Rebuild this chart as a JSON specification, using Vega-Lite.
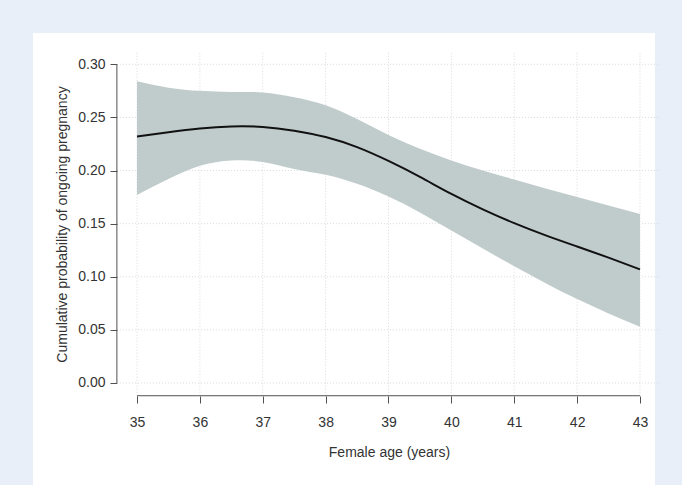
{
  "$schema": "https://vega.github.io/schema/vega-lite/v6.json",
  "width": 622,
  "height": 452,
  "autosize": {"type": "none"},
  "padding": {"left": 33, "top": 33, "right": 27, "bottom": 0},
  "background": "#e8eff9",
  "config": {
    "view": {"fill": "white", "stroke": null},
    "font": "Liberation Sans"
  },
  "datasets": {
    "fit": [
      {"age": 35.0, "lower": 0.177, "fit": 0.232, "upper": 0.284},
      {"age": 35.5, "lower": 0.192, "fit": 0.236, "upper": 0.278},
      {"age": 36.0, "lower": 0.2045, "fit": 0.2395, "upper": 0.275},
      {"age": 36.5, "lower": 0.2095, "fit": 0.2415, "upper": 0.274},
      {"age": 37.0, "lower": 0.208, "fit": 0.241, "upper": 0.2735},
      {"age": 37.5, "lower": 0.2015, "fit": 0.2375, "upper": 0.269},
      {"age": 38.0, "lower": 0.196, "fit": 0.2315, "upper": 0.2615},
      {"age": 38.5, "lower": 0.1875, "fit": 0.222, "upper": 0.2485},
      {"age": 39.0, "lower": 0.1755, "fit": 0.209, "upper": 0.2335},
      {"age": 39.5, "lower": 0.1605, "fit": 0.194, "upper": 0.2205},
      {"age": 40.0, "lower": 0.1435, "fit": 0.178, "upper": 0.2095},
      {"age": 40.5, "lower": 0.1265, "fit": 0.1635, "upper": 0.2},
      {"age": 41.0, "lower": 0.110, "fit": 0.1505, "upper": 0.1915},
      {"age": 41.5, "lower": 0.094, "fit": 0.139, "upper": 0.183},
      {"age": 42.0, "lower": 0.079, "fit": 0.1285, "upper": 0.175},
      {"age": 42.5, "lower": 0.0655, "fit": 0.118, "upper": 0.167},
      {"age": 43.0, "lower": 0.053, "fit": 0.107, "upper": 0.159}
    ],
    "xticks": [
      {"age": 35}, {"age": 36}, {"age": 37}, {"age": 38}, {"age": 39},
      {"age": 40}, {"age": 41}, {"age": 42}, {"age": 43}
    ],
    "yticks": [
      {"p": 0.0}, {"p": 0.05}, {"p": 0.1}, {"p": 0.15}, {"p": 0.2}, {"p": 0.25}, {"p": 0.3}
    ],
    "one": [{"k": 1}]
  },
  "layer": [
    {
      "data": {"name": "xticks"},
      "mark": {"type": "rule", "stroke": "#d9d9d9", "strokeWidth": 1, "strokeDash": [1, 2]},
      "encoding": {
        "x": {"field": "age", "type": "quantitative"},
        "y": {"datum": -0.012, "type": "quantitative"},
        "y2": {"datum": 0.312}
      }
    },
    {
      "data": {"name": "yticks"},
      "mark": {"type": "rule", "stroke": "#d9d9d9", "strokeWidth": 1, "strokeDash": [1, 2]},
      "encoding": {
        "y": {"field": "p", "type": "quantitative"},
        "x": {"datum": 34.68, "type": "quantitative"},
        "x2": {"datum": 43.32}
      }
    },
    {
      "data": {"name": "fit"},
      "mark": {"type": "area", "color": "#c0cccb", "opacity": 1, "interpolate": "natural"},
      "encoding": {
        "x": {
          "field": "age", "type": "quantitative",
          "scale": {"domain": [33.3459, 43.2386], "nice": false, "zero": false},
          "axis": {
            "values": [35, 36, 37, 38, 39, 40, 41, 42, 43],
            "format": "d",
            "offset": -89,
            "domain": false,
            "grid": false,
            "ticks": true,
            "tickSize": 7,
            "tickColor": "#505050",
            "tickWidth": 1,
            "labelFontSize": 14,
            "labelColor": "#333333",
            "labelPadding": 12,
            "labelFont": "Liberation Sans",
            "labelFlush": false,
            "labelOverlap": false,
            "title": "Female age (years)",
            "titleFont": "Liberation Sans",
            "titleFontSize": 14,
            "titleFontWeight": "normal",
            "titleColor": "#333333",
            "titleX": 356,
            "titleY": 56,
            "titleAlign": "center",
            "titleBaseline": "middle"
          }
        },
        "y": {
          "field": "upper", "type": "quantitative",
          "scale": {"domain": [-0.09602, 0.32946], "nice": false, "zero": false},
          "axis": {
            "values": [0, 0.05, 0.1, 0.15, 0.2, 0.25, 0.3],
            "format": ".2f",
            "offset": -84,
            "domain": false,
            "grid": false,
            "ticks": true,
            "tickSize": 7,
            "tickColor": "#505050",
            "tickWidth": 1,
            "labelFontSize": 14,
            "labelColor": "#333333",
            "labelPadding": 5,
            "labelFont": "Liberation Sans",
            "labelFlush": false,
            "labelOverlap": false,
            "title": "Cumulative probability of ongoing pregnancy",
            "titleFont": "Liberation Sans",
            "titleFontSize": 14,
            "titleFontWeight": "normal",
            "titleColor": "#333333",
            "titleAngle": -90,
            "titleX": -55,
            "titleY": 191,
            "titleAlign": "center",
            "titleBaseline": "middle"
          }
        },
        "y2": {"field": "lower"}
      }
    },
    {
      "data": {"name": "fit"},
      "mark": {"type": "line", "color": "#111111", "strokeWidth": 2, "interpolate": "natural"},
      "encoding": {
        "x": {"field": "age", "type": "quantitative"},
        "y": {"field": "fit", "type": "quantitative"}
      }
    },
    {
      "data": {"name": "one"},
      "mark": {"type": "rule", "stroke": "#505050", "strokeWidth": 1},
      "encoding": {
        "x": {"datum": 35, "type": "quantitative"},
        "x2": {"datum": 43},
        "y": {"datum": -0.012, "type": "quantitative"}
      }
    },
    {
      "data": {"name": "one"},
      "mark": {"type": "rule", "stroke": "#505050", "strokeWidth": 1},
      "encoding": {
        "x": {"datum": 34.68, "type": "quantitative"},
        "y": {"datum": 0, "type": "quantitative"},
        "y2": {"datum": 0.3}
      }
    }
  ]
}
